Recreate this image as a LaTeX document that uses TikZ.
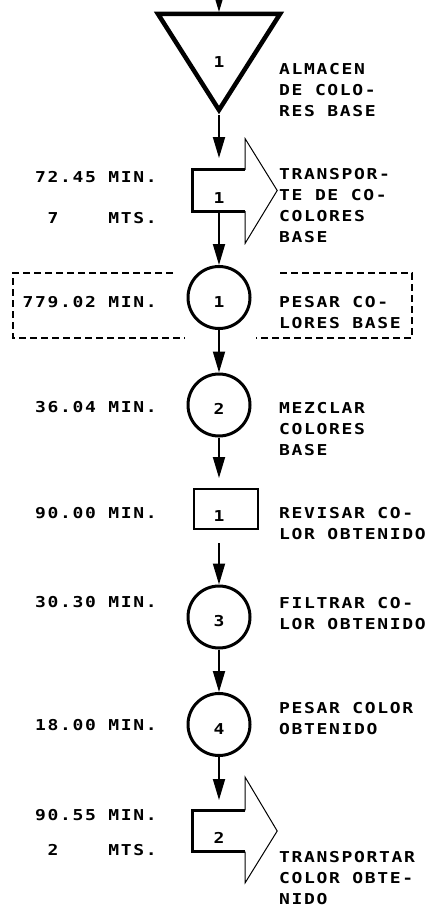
\documentclass[tikz,border=0pt]{standalone}
\usepackage{fontspec}
\usepackage{tikz}
\usetikzlibrary{positioning, calc, arrows.meta}
\newfontfamily\plotface[UprightFont={* Bold}, FakeStretch=1.2, LetterSpace=11]{DejaVu Sans Mono}
\newcommand\plotfont{\plotface\fontsize{15}{21}\selectfont}

\begin{document}
\begin{tikzpicture}[
  x=1pt, y=-1pt,
  >={Triangle[length=21pt, width=12pt]},
  flow/.style  = {->, line width=1.8pt},
  txt/.style   = {font=\plotfont, inner sep=0pt, align=left},
  oper/.style  = {draw, circle, line width=3pt, minimum size=62pt, inner sep=0pt,
                  text height=19pt, text depth=0pt, font=\plotfont},
  insp/.style  = {draw, rectangle, line width=2pt, minimum width=64pt, minimum height=40pt},
  body/.style  = {rectangle, minimum width=52pt, minimum height=41pt, inner sep=0pt,
                  text height=25pt, text depth=0pt, font=\plotfont},
  thickl/.style = {line width=3pt},
  headl/.style  = {line width=1pt, line join=miter},
  fence/.style  = {line width=1.5pt, dash pattern=on 7pt off 4pt},
]
  \useasboundingbox (0,0) rectangle (440,907);

  % almacen
  \draw[line width=4.5pt, line join=miter] (158,14) -- (280,14) -- (219,110) -- cycle;
  \node[txt] (alm) at (219,62) {1};
  \coordinate (src)   at (219,-25);
  \coordinate (almin) at (219,12);
  \coordinate (apex)  at (219,115);

  % transporte 1
  \node[body] (tr1) at (219,190.5) {1};
  \draw[thickl] (tr1.north east) -- (tr1.north west) -- (tr1.south west) -- (tr1.south east);
  \draw[headl] (tr1.north east) -- ++(0,-31) -- ($(tr1.east)+(32,0)$)
               -- ($(tr1.south east)+(0,32)$) -- (tr1.south east);
  \coordinate (tr1in) at (219,158);

  % operaciones e inspeccion
  \node[oper] (op1) at (219,297.5) {1};
  \node[oper] (op2) at (219,405)   {2};
  \node[insp] (rev) at (226,509)   {};
  \node[txt]  (revn) at (219,516)  {1};
  \coordinate (revin)  at (219,478);
  \coordinate (revout) at (219,543);
  \node[oper] (op3) at (219,617)   {3};
  \node[oper] (op4) at (219,724.5) {4};

  % transporte 2
  \node[body] (tr2) at (219,831) {2};
  \draw[thickl] (tr2.north east) -- (tr2.north west) -- (tr2.south west) -- (tr2.south east);
  \draw[headl] (tr2.north east) -- ++(0,-33) -- ($(tr2.east)+(32,0)$)
               -- ($(tr2.south east)+(0,31)$) -- (tr2.south east);
  \coordinate (tr2in) at (219,800);

  % recuadro punteado
  \draw[fence] (173,273) -- (13,273) -- (13,338) -- (185,338);
  \draw[fence] (280,273) -- (412,273) -- (412,338) -- (256,338);

  % flechas
  \draw[flow] (src)    -- (almin);
  \draw[flow] (apex)   -- (tr1in);
  \draw[flow] (tr1.south) -- (op1);
  \draw[flow] (op1)    -- (op2);
  \draw[flow] (op2)    -- (revin);
  \draw[flow] (revout) -- (op3);
  \draw[flow] (op3)    -- (op4);
  \draw[flow] (op4)    -- (tr2in);

  % tiempos y distancias
  \node[txt, anchor=east] (t1)  at (157,177) {72.45 MIN.};
  \node[txt, anchor=east] (d1)  at (157,218) {7~~~~MTS.};
  \node[txt, anchor=east] (t2)  at (157,302) {779.02 MIN.};
  \node[txt, anchor=east] (t3)  at (157,407) {36.04 MIN.};
  \node[txt, anchor=east] (t4)  at (157,513) {90.00 MIN.};
  \node[txt, anchor=east] (t5)  at (157,602) {30.30 MIN.};
  \node[txt, anchor=east] (t6)  at (157,725) {18.00 MIN.};
  \node[txt, anchor=east] (t7)  at (157,815) {90.55 MIN.};
  \node[txt, anchor=east] (d2)  at (157,850) {2~~~~MTS.};

  % descripciones
  \node[txt, anchor=north west] (n1) at (279,63)  {ALMACEN\\DE COLO-\\RES BASE};
  \node[txt, anchor=north west] (n2) at (279,168) {TRANSPOR-\\TE DE CO-\\COLORES\\BASE};
  \node[txt, anchor=north west] (n3) at (279,296) {PESAR CO-\\LORES BASE};
  \node[txt, anchor=north west] (n4) at (279,402) {MEZCLAR\\COLORES\\BASE};
  \node[txt, anchor=north west] (n5) at (279,507) {REVISAR CO-\\LOR OBTENIDO};
  \node[txt, anchor=north west] (n6) at (279,597) {FILTRAR CO-\\LOR OBTENIDO};
  \node[txt, anchor=north west] (n7) at (279,702) {PESAR COLOR\\OBTENIDO};
  \node[txt, anchor=north west] (n8) at (279,851) {TRANSPORTAR\\COLOR OBTE-\\NIDO};
\end{tikzpicture}
\end{document}
